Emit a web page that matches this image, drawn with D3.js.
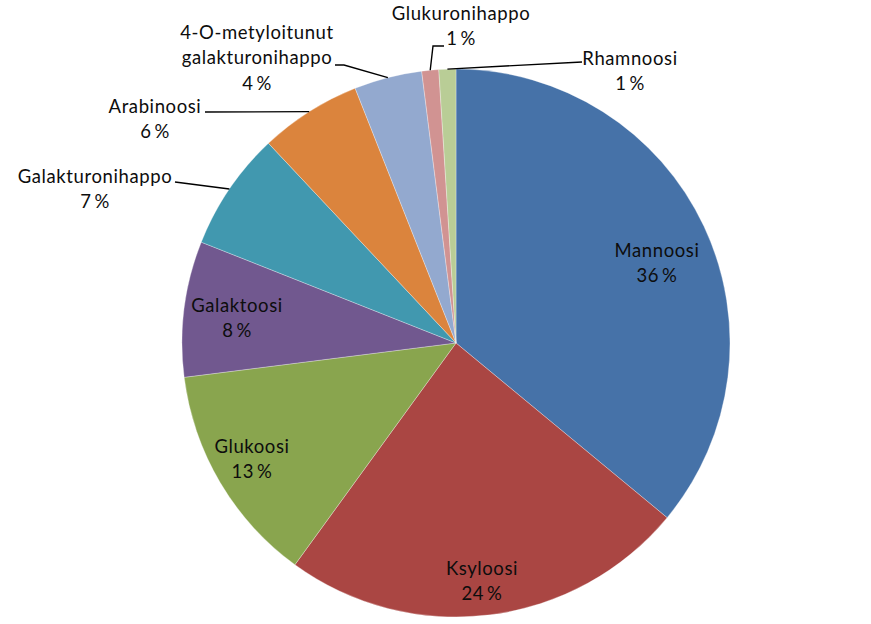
<!DOCTYPE html>
<html>
<head>
<meta charset="utf-8">
<script src="https://cdn.jsdelivr.net/npm/d3@7/dist/d3.min.js"></script>
<style>
  html, body { margin: 0; padding: 0; background: #ffffff; }
  svg { display: block; }
  text { font-family: Lato, "Open Sans", sans-serif; fill: #0d0d0d; }
</style>
</head>
<body>
<svg id="chart" width="871" height="624"></svg>
<script>
// Sugar composition (%), clockwise from 12 o'clock
const names = ["Mannoosi", "Ksyloosi", "Glukoosi", "Galaktoosi", "Galakturonihappo",
               "Arabinoosi", "4-O-metyloitunut galakturonihappo", "Glukuronihappo", "Rhamnoosi"];
const values = [36, 24, 13, 8, 7, 6, 4, 1, 1];
const colors = ["#4672A8", "#AA4643", "#89A54E", "#71588F", "#4198AF",
                "#DB843D", "#93A9CF", "#D19392", "#B9CD96"];

// Label text lines (name split into lines, value line last)
const labelLines = [
  ["Mannoosi"], ["Ksyloosi"], ["Glukoosi"], ["Galaktoosi"], ["Galakturonihappo"],
  ["Arabinoosi"], ["4-O-metyloitunut", "galakturonihappo"], ["Glukuronihappo"], ["Rhamnoosi"]
];

// Label placement: centre x and first baseline y, plus leader start point (null = inside label)
const labelLayout = [
  { x: 657, y: 257, lead: null },
  { x: 482, y: 575, lead: null },
  { x: 252, y: 453, lead: null },
  { x: 237, y: 312, lead: null },
  { x: 95,  y: 183, lead: [[175, 182]] },
  { x: 155, y: 113, lead: [[205, 112]] },
  { x: 257, y: 39,  lead: [[335, 65], [344, 65]] },
  { x: 461, y: 20,  lead: [[444, 46], [433, 46]] },
  { x: 630, y: 65,  lead: [[582, 62]] }
];

const cx = 456, cy = 343, R = 274, lineH = 25;

const svg = d3.select("#chart");
const g = svg.append("g").attr("transform", `translate(${cx},${cy})`);

const pie = d3.pie().sort(null).value(d => d);
const arcs = pie(values);
const arc = d3.arc().innerRadius(0).outerRadius(R);
const rimArc = d3.arc().innerRadius(R).outerRadius(R);

g.selectAll("path.slice")
  .data(arcs)
  .enter().append("path")
  .attr("class", "slice")
  .attr("d", arc)
  .attr("fill", (d, i) => colors[i])
  .attr("stroke", "#ffffff")
  .attr("stroke-width", 0.5)
  .attr("stroke-opacity", 0.6);

// Leader lines from label to the slice rim at its mid-angle
const line = d3.line();
arcs.forEach((d, i) => {
  const L = labelLayout[i];
  if (!L.lead) return;
  const rim = rimArc.centroid(d);
  const pts = L.lead.map(p => [p[0] - cx, p[1] - cy]).concat([rim]);
  g.append("path")
    .attr("d", line(pts))
    .attr("fill", "none")
    .attr("stroke", "#000")
    .attr("stroke-width", 1.4);
});

// Labels
const fontSize = 18.5;
arcs.forEach((d, i) => {
  const L = labelLayout[i];
  const lines = labelLines[i].concat([values[i] + "\u2009%"]);
  const t = svg.append("text")
    .attr("text-anchor", "middle")
    .attr("font-size", fontSize)
    .attr("letter-spacing", 0.6);
  lines.forEach((s, k) => {
    t.append("tspan")
      .attr("x", L.x)
      .attr("y", L.y + k * lineH + (k === lines.length - 1 && lines.length > 2 ? 1 : 0))
      .text(s);
  });
});
</script>
</body>
</html>
